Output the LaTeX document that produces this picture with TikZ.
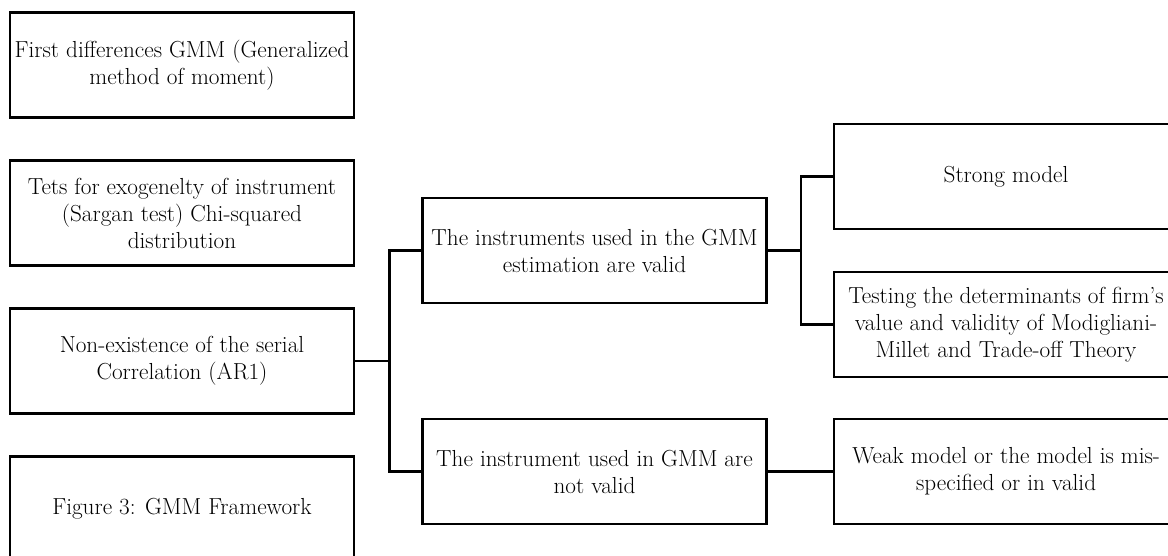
\documentclass[tikz,border=0pt]{standalone}
\usepackage{tikz}
\usetikzlibrary{positioning}

\begin{document}
\begin{tikzpicture}[x=1pt,y=1pt,node distance=40.4pt]
\tikzset{gbox/.style={draw,line width=2.6pt,align=center,minimum width=344pt,minimum height=105pt,inner sep=2pt,font=\fontsize{23.2}{27}\selectfont}}
\tikzset{link/.style={line width=2.6pt}}
\useasboundingbox (0,0) rectangle (1168,555);
\clip (0,0) rectangle (1168,555);
\node[gbox] (first) at (182,490) {First differences GMM (Generalized\\method of moment)};
\node[gbox,below=of first] (sargan) {Tets for exogenelty of instrument\\(Sargan test) Chi-squared\\distribution};
\node[gbox,below=of sargan] (nonex) {Non-existence of the serial\\Correlation (AR1)};
\node[gbox,below=of nonex] (fig) {Figure 3: GMM Framework};
\node[gbox] (valid) at (594.5,304.5) {The instruments used in the GMM\\estimation are valid};
\node[gbox,below=113.4pt of valid] (invalid) {The instrument used in GMM are\\not valid};
\node[gbox] (strong) at (1006,378.5) {Strong model};
\node[gbox,below=of strong] (testing) {Testing the determinants of firm's\\value and validity of Modigliani-\\Millet and Trade-off Theory};
\node[gbox,right=65pt of invalid] (weak) {Weak model or the model is mis-\\specified or in valid};
\draw[link] (nonex.east) -- ++(34,0) |- (valid.west); \draw[link] (nonex.east) -- ++(34,0) |- (invalid.west);
\draw[link] (valid.east) -- ++(33,0) |- (strong.west); \draw[link] (valid.east) -- ++(33,0) |- (testing.west);
\draw[link] (invalid) -- (weak);
\end{tikzpicture}
\end{document}
